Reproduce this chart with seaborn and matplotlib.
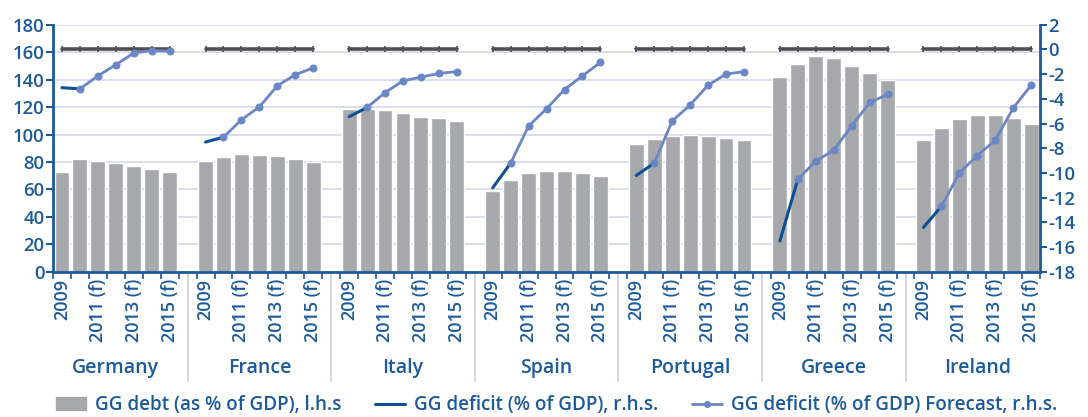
import numpy as np
import pandas as pd
import seaborn as sns
import matplotlib.pyplot as plt
import matplotlib.transforms as mtransforms
from matplotlib.lines import Line2D
from matplotlib.patches import Patch

# categories
countries = ["Germany", "France", "Italy", "Spain", "Portugal", "Greece", "Ireland"]
years = ["2009", "2010", "2011 (f)", "2012 (f)", "2013 (f)", "2014 (f)", "2015 (f)"]
tick_years = ["2009", "2011 (f)", "2013 (f)", "2015 (f)"]

# GG debt, % of GDP (l.h.s.), one row per country, 2009..2015
debt = [
    [73, 82, 81, 79.5, 77, 75, 73],
    [80.5, 83.5, 86, 85, 84.5, 82, 80],
    [118.5, 118.5, 117.5, 116, 113, 112, 109.5],
    [59, 67, 72, 73.5, 73.5, 72, 70],
    [93, 96.5, 99, 99.5, 98.7, 97.2, 96],
    [141.5, 151.5, 157.5, 155.5, 150, 144.5, 139.5],
    [96, 104.5, 111, 114, 114, 112, 108],
]

# GG deficit, % of GDP (r.h.s.), 2009 and 2010
deficit = [
    [-3.1, -3.2],
    [-7.5, -7.1],
    [-5.45, -4.7],
    [-11.2, -9.2],
    [-10.2, -9.2],
    [-15.5, -10.5],
    [-14.4, -12.7],
]

# GG deficit forecast (r.h.s.), 2011..2015 (joins the 2010 value)
forecast = [
    [-2.15, -1.25, -0.3, -0.1, -0.15],
    [-5.7, -4.65, -2.95, -2.05, -1.5],
    [-3.5, -2.55, -2.25, -1.95, -1.8],
    [-6.2, -4.8, -3.25, -2.15, -1.05],
    [-5.8, -4.5, -2.9, -2.0, -1.8],
    [-9.05, -8.15, -6.2, -4.3, -3.65],
    [-10.0, -8.6, -7.35, -4.75, -2.9],
]

# zero reference line on r.h.s.
ref_line = [0, 0, 0, 0, 0, 0, 0]

BLUE = "#1C5A9C"
BAR = "#A7A8AC"
DARK = "#0D4F95"
FCST = "#6A86C5"
GRID = "#D3D8EA"
REF = "#505050"

# slot positions: 7 years + 1 blank per country
rows, act_rows, fc_rows, ref_rows = [], [], [], []
for g, c in enumerate(countries):
    for i, y in enumerate(years):
        pos = g * 8 + i
        rows.append({"country": c, "year": y, "pos": pos, "debt": debt[g][i]})
        ref_rows.append({"country": c, "pos": pos, "val": ref_line[i]})
    for i in range(2):
        act_rows.append({"country": c, "pos": g * 8 + i, "val": deficit[g][i]})
    fc_rows.append({"country": c, "pos": g * 8 + 1, "val": deficit[g][1]})
    for i in range(5):
        fc_rows.append({"country": c, "pos": g * 8 + 2 + i, "val": forecast[g][i]})
df = pd.DataFrame(rows)
act_df = pd.DataFrame(act_rows)
fc_df = pd.DataFrame(fc_rows)
ref_df = pd.DataFrame(ref_rows)

sns.set_style("white")
plt.rcParams["font.family"] = ["Open Sans", "DejaVu Sans"]
plt.rcParams["font.weight"] = "semibold"

fig = plt.figure(figsize=(10.88, 4.17), dpi=100)
ax = fig.add_axes([0.0487, 0.348, 0.9073, 0.593])

sns.barplot(data=df, x="pos", y="debt", native_scale=True, color=BAR,
            width=0.83, errorbar=None, saturation=1, ax=ax, zorder=2)
ax.set_ylim(0, 180)
ax.set_yticks(np.arange(0, 181, 20))
ax.set_xlim(-0.5, 54.5)
ax.yaxis.grid(True, color=GRID, lw=1.2)
ax.set_axisbelow(True)

ax2 = ax.twinx()
sns.lineplot(data=ref_df, x="pos", y="val", units="country", estimator=None,
             color=REF, lw=2.6, marker="|", markersize=4, mew=1.2, mec=REF,
             ax=ax2)
sns.lineplot(data=act_df, x="pos", y="val", units="country", estimator=None,
             color=DARK, lw=2.2, ax=ax2)
sns.lineplot(data=fc_df, x="pos", y="val", units="country", estimator=None,
             color=FCST, lw=2, marker="o", markersize=5, mec=FCST, ax=ax2)
ax2.set_ylim(-18, 2)
ax2.set_yticks(np.arange(-18, 3, 2))
ax2.set_xlim(-0.5, 54.5)

for a in (ax, ax2):
    a.set_xlabel("")
    a.set_ylabel("")
    for s in a.spines.values():
        s.set_visible(False)
ax.spines["left"].set_visible(True)
ax.spines["bottom"].set_visible(True)
ax2.spines["right"].set_visible(True)
for s in (ax.spines["left"], ax.spines["bottom"], ax2.spines["right"]):
    s.set_color(BLUE)
    s.set_linewidth(2)

ax.tick_params(axis="y", colors=BLUE, labelsize=13.3, length=5, width=1.5,
               direction="out", left=True, pad=1)
ax2.tick_params(axis="y", colors=BLUE, labelsize=13.3, length=5, width=1.5,
                direction="out", right=True, pad=1)
ax2.set_yticklabels([f"{v}" for v in range(-18, 3, 2)])

# x labels: every other year, rotated
major = [g * 8 + i for g in range(len(countries)) for i in (0, 2, 4, 6)]
ax.set_xticks(major)
ax.set_xticklabels(tick_years * len(countries), rotation=90, va="top",
                   ha="center", color=BLUE, fontsize=13)
ax.set_xticks(np.arange(-0.5, 55, 1), minor=True)
ax.tick_params(axis="x", which="major", length=0, pad=5)
ax.tick_params(axis="x", which="minor", length=5, width=1.2, color=BLUE,
               direction="out", bottom=True)

trans = mtransforms.blended_transform_factory(ax.transData, ax.transAxes)
for g, c in enumerate(countries):
    ax.text(g * 8 + 3, -0.39, c, transform=trans, ha="center", va="center",
            color=BLUE, fontsize=14)
    if g < len(countries) - 1:
        ax.plot([g * 8 + 7, g * 8 + 7], [0, -0.44], transform=trans,
                color="#C8CDE3", lw=1.2, clip_on=False)

handles = [
    Patch(color=BAR),
    Line2D([], [], color=DARK, lw=2.2),
    Line2D([], [], color=FCST, lw=2, marker="o", markersize=4),
]
labels = ["GG debt (as % of GDP), l.h.s", "GG deficit (% of GDP), r.h.s.",
          "GG deficit (% of GDP) Forecast, r.h.s."]
leg = fig.legend(handles, labels, loc="center", bbox_to_anchor=(0.5115, 0.028),
                 ncol=3, frameon=False, fontsize=13.6, handlelength=1.6,
                 columnspacing=1.8, handletextpad=0.45)
for t in leg.get_texts():
    t.set_color(BLUE)

fig.savefig("out.png", dpi=100)
